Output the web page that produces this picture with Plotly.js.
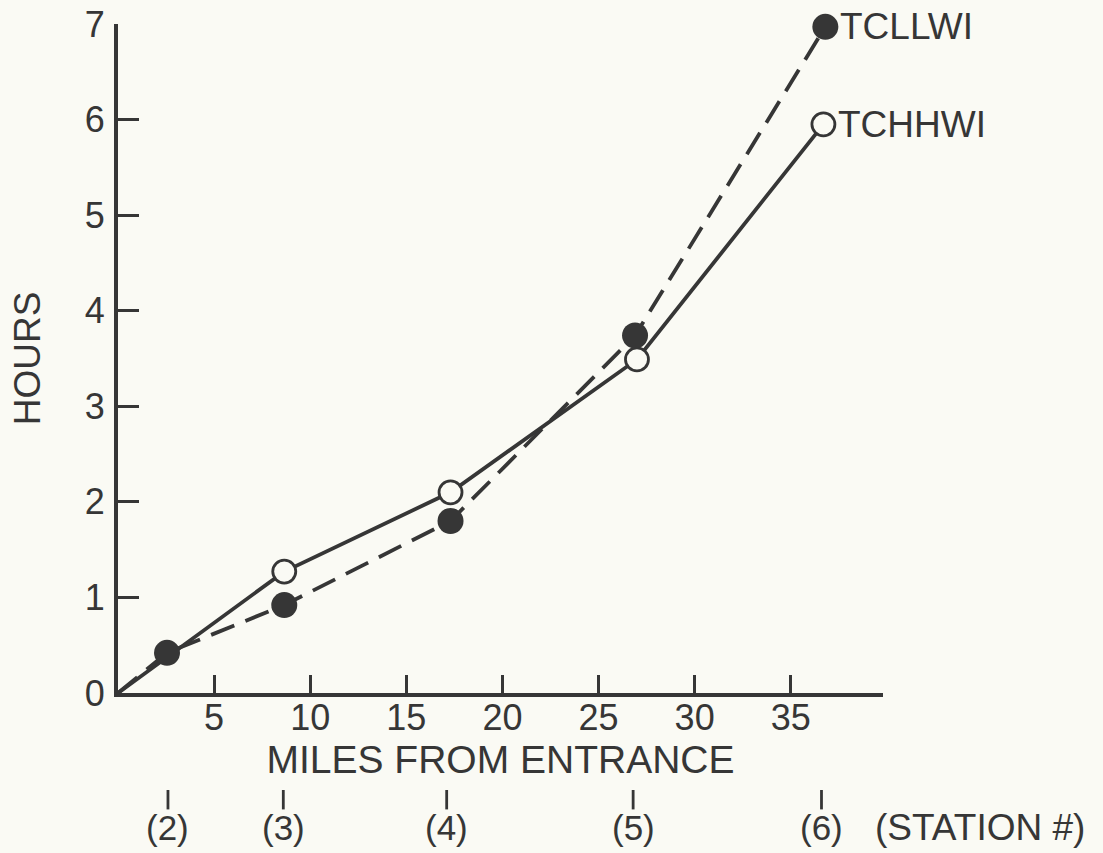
<!DOCTYPE html>
<html>
<head>
<meta charset="utf-8">
<script src="https://cdn.plot.ly/plotly-3.0.1.min.js"></script>
<style>
html,body{margin:0;padding:0;background:#fafaf4;}
#chart{width:1103px;height:853px;}
</style>
</head>
<body>
<div id="chart"></div>
<script>
// Data
const milesLLWI = [0, 2.55, 8.65, 17.3, 26.9, 36.8];
const hoursLLWI = [0, 0.42, 0.92, 1.80, 3.74, 6.97];
const milesHHWI = [0, 2.55, 8.65, 17.3, 27.0, 36.7];
const hoursHHWI = [0, 0.42, 1.27, 2.10, 3.49, 5.95];
const seriesNames = ["TCLLWI", "TCHHWI"];
const stationMiles = [2.6, 8.6, 17.1, 26.8, 36.6];
const stationLabels = ["(2)", "(3)", "(4)", "(5)", "(6)"];
const xTicks = [5, 10, 15, 20, 25, 30, 35];
const yTicks = [0, 1, 2, 3, 4, 5, 6, 7];

const ink = "#363636";
const font = "Liberation Sans, Arial, Helvetica, sans-serif";

const traces = [
  {
    x: milesHHWI.slice(0, 1).concat(milesHHWI.slice(2)),
    y: hoursHHWI.slice(0, 1).concat(hoursHHWI.slice(2)),
    mode: "lines",
    line: {color: ink, width: 3.8},
    hoverinfo: "skip", showlegend: false, cliponaxis: false
  },
  {
    x: milesHHWI.slice(2),
    y: hoursHHWI.slice(2),
    mode: "markers",
    marker: {size: 23, color: "#fafaf4", line: {color: ink, width: 2.8}},
    name: seriesNames[1], showlegend: false, cliponaxis: false
  },
  {
    x: milesLLWI,
    y: hoursLLWI,
    mode: "lines",
    line: {color: ink, width: 3.8, dash: "25px,12px"},
    hoverinfo: "skip", showlegend: false, cliponaxis: false
  },
  {
    x: milesLLWI.slice(1),
    y: hoursLLWI.slice(1),
    mode: "markers",
    marker: {size: 26, color: ink},
    name: seriesNames[0], showlegend: false, cliponaxis: false
  }
];

const annotations = [
  {x: milesLLWI[milesLLWI.length-1], y: hoursLLWI[hoursLLWI.length-1], xref: "x", yref: "y",
   text: seriesNames[0], showarrow: false, xanchor: "left", yanchor: "middle", xshift: 13,
   font: {family: font, size: 37, color: ink}},
  {x: milesHHWI[milesHHWI.length-1], y: hoursHHWI[hoursHHWI.length-1], xref: "x", yref: "y",
   text: seriesNames[1], showarrow: false, xanchor: "left", yanchor: "middle", xshift: 13,
   font: {family: font, size: 37, color: ink}},
  {x: 1.127, y: -0.201, xref: "paper", yref: "paper", text: "(STATION #)", showarrow: false,
   xanchor: "center", yanchor: "middle", font: {family: font, size: 37, color: ink}}
];
const shapes = [];
stationMiles.forEach((m, i) => {
  annotations.push({x: m, y: -0.201, xref: "x", yref: "paper", text: stationLabels[i], showarrow: false,
    xanchor: "center", yanchor: "middle", font: {family: font, size: 35, color: ink}});
  shapes.push({type: "line", xref: "x", yref: "paper", x0: m, x1: m, y0: -0.145, y1: -0.174,
    line: {color: ink, width: 2.8}});
});

const layout = {
  width: 1103, height: 853,
  margin: {l: 118, r: 220, t: 24, b: 160, pad: 0},
  paper_bgcolor: "#fafaf4", plot_bgcolor: "#fafaf4",
  font: {family: font, color: ink},
  showlegend: false,
  xaxis: {
    range: [0, 39.8], tickvals: xTicks, ticktext: xTicks.map(String),
    ticks: "inside", ticklen: 18, tickwidth: 2.8, tickcolor: ink,
    showline: true, linecolor: ink, linewidth: 4, showgrid: false, zeroline: false,
    tickfont: {family: font, size: 36, color: ink}, ticklabelstandoff: -10,
    title: {text: "MILES FROM ENTRANCE", font: {family: font, size: 39, color: ink}, standoff: 0}
  },
  yaxis: {
    range: [0, 7], tickvals: yTicks, ticktext: yTicks.map(String),
    ticks: "inside", ticklen: 21, tickwidth: 3, tickcolor: ink,
    showline: true, linecolor: ink, linewidth: 4, showgrid: false, zeroline: false,
    tickfont: {family: font, size: 36, color: ink}, ticklabelstandoff: 2,
    title: {text: "HOURS", font: {family: font, size: 37, color: ink}, standoff: 34}
  },
  annotations: annotations,
  shapes: shapes
};

Plotly.newPlot("chart", traces, layout, {displayModeBar: false, staticPlot: true});
</script>
</body>
</html>
